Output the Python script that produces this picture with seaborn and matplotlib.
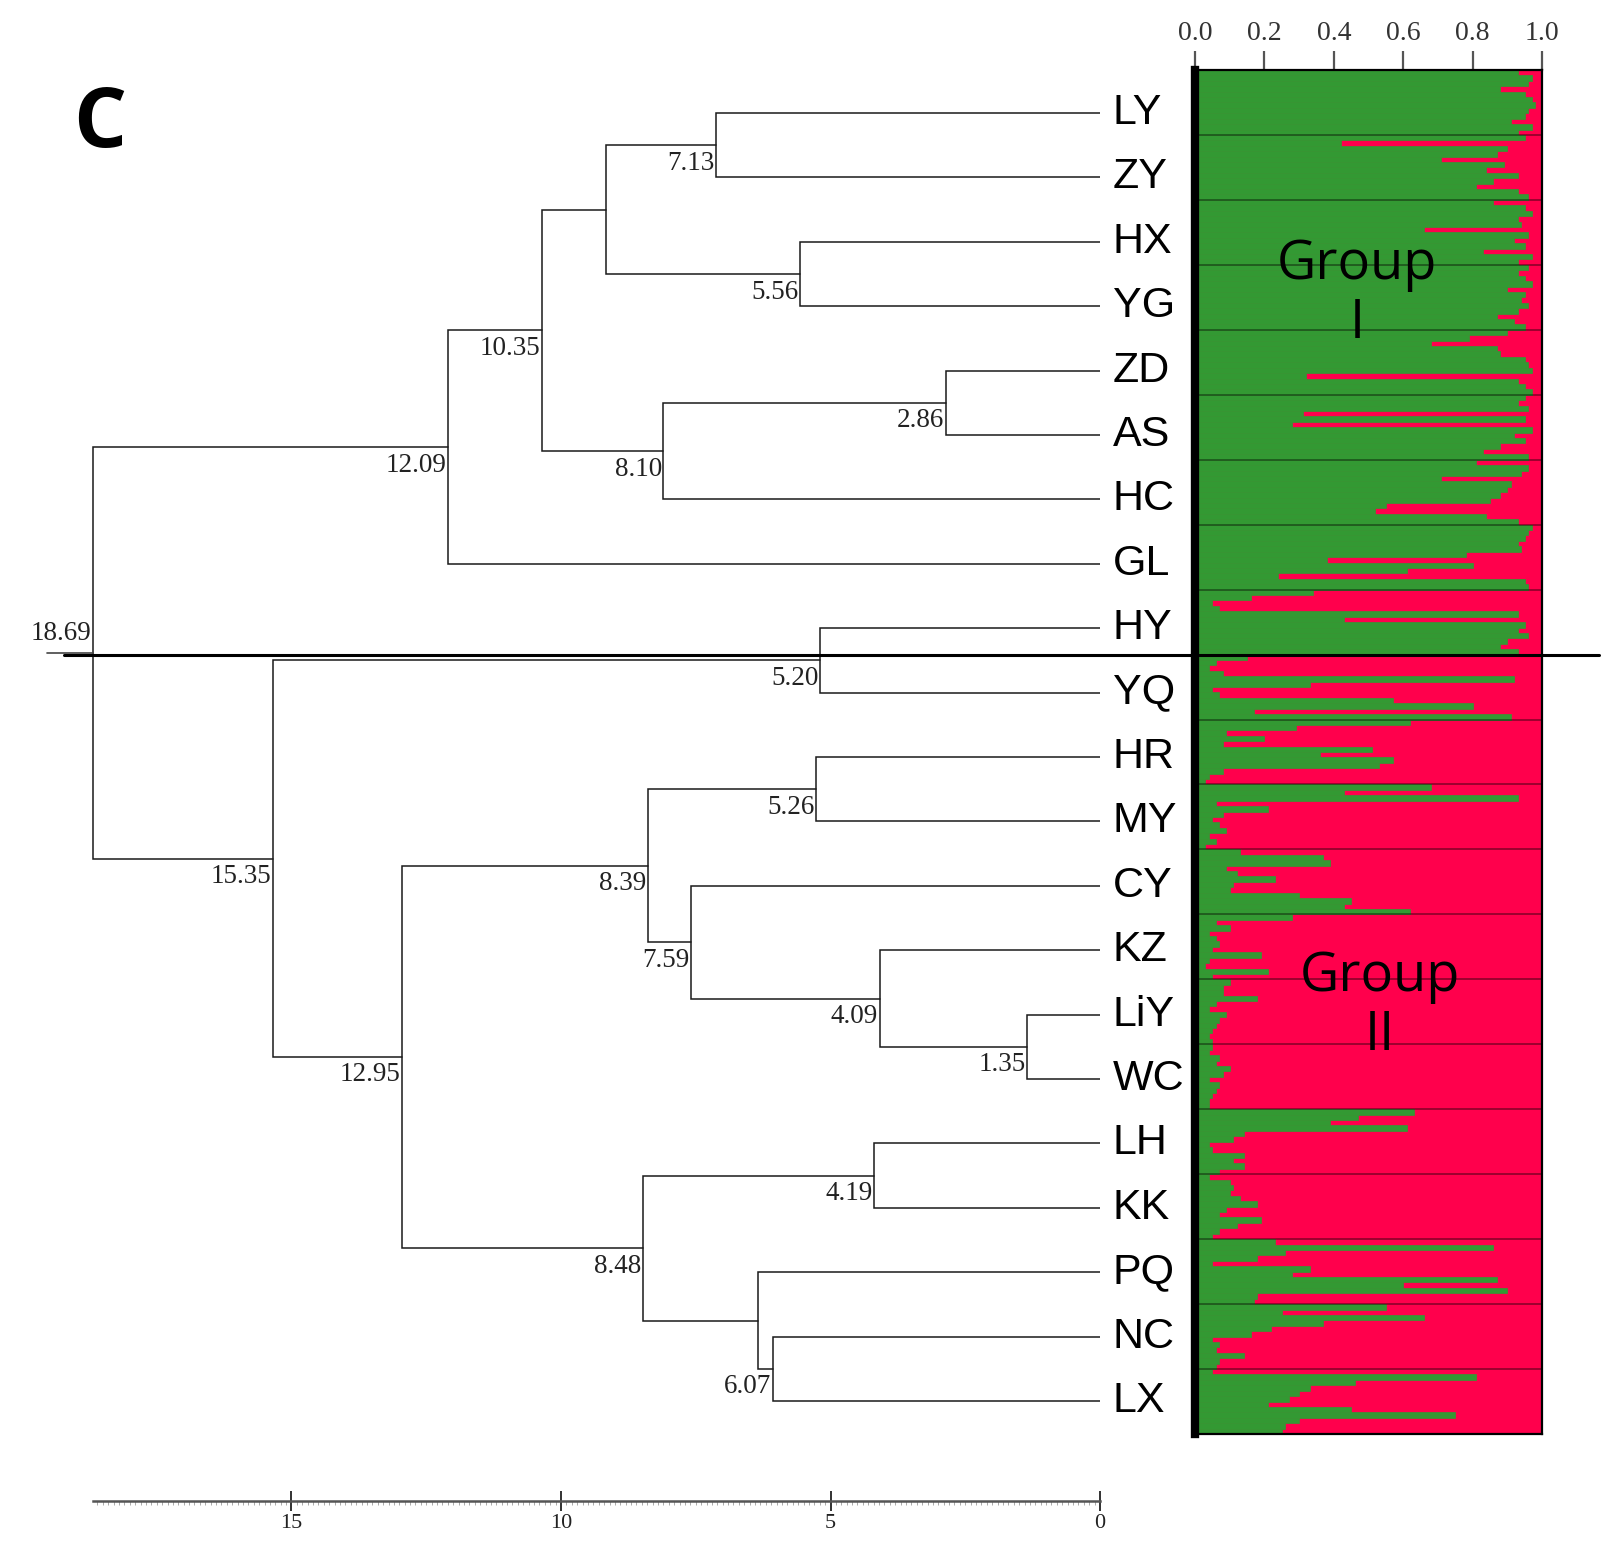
import numpy as np
import pandas as pd
import matplotlib
matplotlib.use("Agg")
import matplotlib.pyplot as plt
from matplotlib.ticker import FixedLocator
import seaborn as sns

# dendrogram: leaves top to bottom, merges in build order
leaves = ['LY', 'ZY', 'HX', 'YG', 'ZD', 'AS', 'HC', 'GL', 'HY', 'YQ', 'HR',
          'MY', 'CY', 'KZ', 'LiY', 'WC', 'LH', 'KK', 'PQ', 'NC', 'LX']
merge_a = ['LY', 'HX', 'm1', 'ZD', 'm4', 'm3', 'm6', 'HY', 'HR', 'LiY', 'KZ',
           'CY', 'm9', 'LH', 'NC', 'PQ', 'm14', 'm13', 'm8', 'm7']
merge_b = ['ZY', 'YG', 'm2', 'AS', 'HC', 'm5', 'GL', 'YQ', 'MY', 'WC', 'm10',
           'm11', 'm12', 'KK', 'LX', 'm15', 'm16', 'm17', 'm18', 'm19']
merge_h = [7.13, 5.56, 9.16, 2.86, 8.10, 10.35, 12.09, 5.20, 5.26, 1.35, 4.09,
           7.59, 8.39, 4.19, 6.07, 6.34, 8.48, 12.95, 15.35, 18.69]
merge_shown = [True, True, False, True, True, True, True, True, True, True, True,
               True, True, True, True, False, True, True, True, True]

# membership in the green cluster, one value per individual
q_LY = [0.93, 0.97, 0.96, 0.88, 0.95, 0.97, 0.98, 0.96, 0.95, 0.91, 0.97, 0.93]
q_ZY = [0.95, 0.42, 0.90, 0.87, 0.71, 0.89, 0.84, 0.93, 0.86, 0.81, 0.93, 0.96]
q_HX = [0.86, 0.95, 0.97, 0.93, 0.94, 0.66, 0.96, 0.92, 0.95, 0.83, 0.97, 0.93]
q_YG = [0.96, 0.93, 0.95, 0.97, 0.90, 0.95, 0.94, 0.96, 0.93, 0.87, 0.92, 0.95]
q_ZD = [0.90, 0.79, 0.68, 0.87, 0.88, 0.95, 0.96, 0.97, 0.32, 0.93, 0.95, 0.97]
q_AS = [0.95, 0.93, 0.96, 0.31, 0.95, 0.28, 0.97, 0.92, 0.95, 0.88, 0.83, 0.96]
q_HC = [0.81, 0.96, 0.94, 0.71, 0.91, 0.90, 0.88, 0.85, 0.55, 0.52, 0.84, 0.93]
q_GL = [0.97, 0.96, 0.95, 0.93, 0.94, 0.78, 0.38, 0.80, 0.61, 0.24, 0.95, 0.96]
q_HY = [0.34, 0.16, 0.05, 0.07, 0.93, 0.43, 0.95, 0.93, 0.96, 0.90, 0.88, 0.93]
q_YQ = [0.15, 0.06, 0.04, 0.08, 0.92, 0.33, 0.05, 0.07, 0.57, 0.80, 0.17, 0.91]
q_HR = [0.62, 0.29, 0.09, 0.20, 0.08, 0.51, 0.36, 0.57, 0.53, 0.08, 0.04, 0.03]
q_MY = [0.68, 0.43, 0.93, 0.06, 0.21, 0.08, 0.05, 0.07, 0.09, 0.04, 0.06, 0.03]
q_CY = [0.13, 0.37, 0.39, 0.09, 0.12, 0.23, 0.11, 0.10, 0.30, 0.45, 0.43, 0.62]
q_KZ = [0.28, 0.06, 0.10, 0.04, 0.06, 0.07, 0.05, 0.19, 0.04, 0.03, 0.21, 0.05]
q_LiY = [0.10, 0.08, 0.08, 0.18, 0.06, 0.04, 0.09, 0.07, 0.06, 0.05, 0.04, 0.05]
q_WC = [0.05, 0.04, 0.07, 0.06, 0.10, 0.08, 0.04, 0.07, 0.06, 0.05, 0.04, 0.04]
q_LH = [0.63, 0.47, 0.39, 0.61, 0.14, 0.11, 0.04, 0.05, 0.14, 0.11, 0.14, 0.07]
q_KK = [0.04, 0.10, 0.11, 0.10, 0.13, 0.18, 0.09, 0.07, 0.19, 0.12, 0.07, 0.05]
q_PQ = [0.23, 0.86, 0.26, 0.18, 0.05, 0.33, 0.28, 0.87, 0.60, 0.90, 0.18, 0.17]
q_NC = [0.55, 0.25, 0.66, 0.37, 0.22, 0.16, 0.05, 0.07, 0.06, 0.14, 0.07, 0.06]
q_LX = [0.05, 0.81, 0.46, 0.33, 0.30, 0.27, 0.21, 0.45, 0.75, 0.30, 0.26, 0.25]

green_share = [q_LY, q_ZY, q_HX, q_YG, q_ZD, q_AS, q_HC, q_GL, q_HY, q_YQ, q_HR,
               q_MY, q_CY, q_KZ, q_LiY, q_WC, q_LH, q_KK, q_PQ, q_NC, q_LX]

bar_ticks = [0.0, 0.2, 0.4, 0.6, 0.8, 1.0]
dist_ticks = [0, 5, 10, 15]

GREEN = '#339933'
RED = '#ff004c'
SERIF = ['Liberation Serif', 'DejaVu Serif']
NARROW = ['Liberation Sans Narrow', 'Liberation Sans', 'DejaVu Sans']

sns.set_style('white')
plt.rcParams['font.family'] = ['DejaVu Sans']
plt.rcParams['text.color'] = 'black'

W, H = 1613, 1550
fig = plt.figure(figsize=(W / 100, H / 100), dpi=100)


def box(x0, y0, x1, y1):
    return [x0 / W, 1 - y1 / H, (x1 - x0) / W, (y1 - y0) / H]


# ---- dendrogram ----
zero_px, unit_px = 1100, 53.9
leaf_y0, leaf_dy = 113, 64.4
ax = fig.add_axes(box(40, 60, zero_px, 1501))
ax.set_xlim((zero_px - 40) / unit_px, 0)
ax.set_ylim((1501 - leaf_y0) / leaf_dy, (60 - leaf_y0) / leaf_dy)

pos = {name: (i, 0.0) for i, name in enumerate(leaves)}
for k, (a, b, h) in enumerate(zip(merge_a, merge_b, merge_h)):
    ya, ha = pos[a]
    yb, hb = pos[b]
    ax.plot([ha, h, h, hb], [ya, ya, yb, yb], color='#1a1a1a', lw=1.1,
            solid_joinstyle='miter')
    ym = (ya + yb) / 2
    pos[f'm{k + 1}'] = (ym, h)
    if not merge_shown[k]:
        continue
    if k == len(merge_h) - 1:
        ax.plot([h, h + 0.85], [ym, ym], color='#444444', lw=1.2)
        ax.annotate(f'{h:.2f}', (h, ym), xytext=(-1, 5), textcoords='offset points',
                    ha='right', va='bottom', fontsize=19.5, family=SERIF, color='#222222')
    else:
        ax.annotate(f'{h:.2f}', (h, ym), xytext=(-1, -4), textcoords='offset points',
                    ha='right', va='top', fontsize=19.5, family=SERIF, color='#222222')

for i, name in enumerate(leaves):
    ax.annotate(name, (0, i), xytext=(9, 0), textcoords='offset points',
                ha='left', va='center', fontsize=31, family=NARROW, color='black')

for side in ['left', 'right', 'top']:
    ax.spines[side].set_visible(False)
ax.spines['bottom'].set_bounds(0, merge_h[-1])
ax.spines['bottom'].set_color('#555555')
ax.spines['bottom'].set_linewidth(1.8)
ax.set_yticks([])
ax.set_xticks(dist_ticks)
ax.set_xticklabels([str(t) for t in dist_ticks], family=SERIF)
ax.xaxis.set_minor_locator(FixedLocator(np.arange(0, merge_h[-1], 0.1)))
ax.tick_params(axis='x', which='major', direction='inout', length=14, width=1.3,
               color='#222222', labelsize=16, labelcolor='#222222', pad=2, bottom=True)
ax.tick_params(axis='x', which='minor', direction='out', length=3, width=0.5,
               color='#888888', bottom=True)

# ---- membership bars ----
axb = fig.add_axes(box(1195, 70, 1542, 1434))
n_ind = sum(len(g) for g in green_share)
df = pd.DataFrame({'ind': np.arange(n_ind),
                   'green': np.concatenate(green_share),
                   'total': np.ones(n_ind)})
axb.set_facecolor(RED)
sns.barplot(data=df, x='total', y='ind', orient='y', native_scale=True, color=RED,
            saturation=1, width=1, linewidth=0.5, edgecolor=RED, errorbar=None, ax=axb)
sns.barplot(data=df, x='green', y='ind', orient='y', native_scale=True, color=GREEN,
            saturation=1, width=1, linewidth=0.5, edgecolor=GREEN, errorbar=None, ax=axb)
axb.set_xlim(0, 1)
axb.set_ylim(n_ind - 0.5, -0.5)
axb.set_xlabel('')
axb.set_ylabel('')
axb.set_yticks([])

bounds = np.cumsum([len(g) for g in green_share])[:-1] - 0.5
axb.hlines(bounds, 0, 1, color='black', alpha=0.45, lw=1.2, zorder=5)
split = bounds[leaves.index('HY')]
axb.axhline(split, xmin=(64 - 1195) / 347, xmax=(1599 - 1195) / 347,
            color='black', lw=2.2, clip_on=False, zorder=10)

axb.xaxis.tick_top()
axb.set_xticks(bar_ticks)
axb.set_xticklabels([f'{t:.1f}' for t in bar_ticks], family=SERIF)
axb.tick_params(axis='x', top=True, bottom=False, labeltop=True, labelbottom=False,
                direction='out', length=14, width=1.6, color='#555555',
                labelsize=20, labelcolor='#333333', pad=3)
for side in ['top', 'right', 'bottom']:
    axb.spines[side].set_visible(True)
    axb.spines[side].set_color('black')
    axb.spines[side].set_linewidth(1.6)
axb.spines['left'].set_visible(True)
axb.spines['left'].set_color('black')
axb.spines['left'].set_linewidth(6)

fig.text(1357 / W, 1 - 294 / H, 'Group\nI', ha='center', va='center', fontsize=39,
         family='Open Sans', linespacing=1.1, color='black')
fig.text(1380 / W, 1 - 1006 / H, 'Group\nII', ha='center', va='center', fontsize=39,
         family='Open Sans', linespacing=1.1, color='black')
fig.text(100 / W, 1 - 125 / H, 'C', ha='center', va='center', fontsize=60,
         fontweight='bold', family='Open Sans', color='black')

fig.savefig('out.png', dpi=100)
